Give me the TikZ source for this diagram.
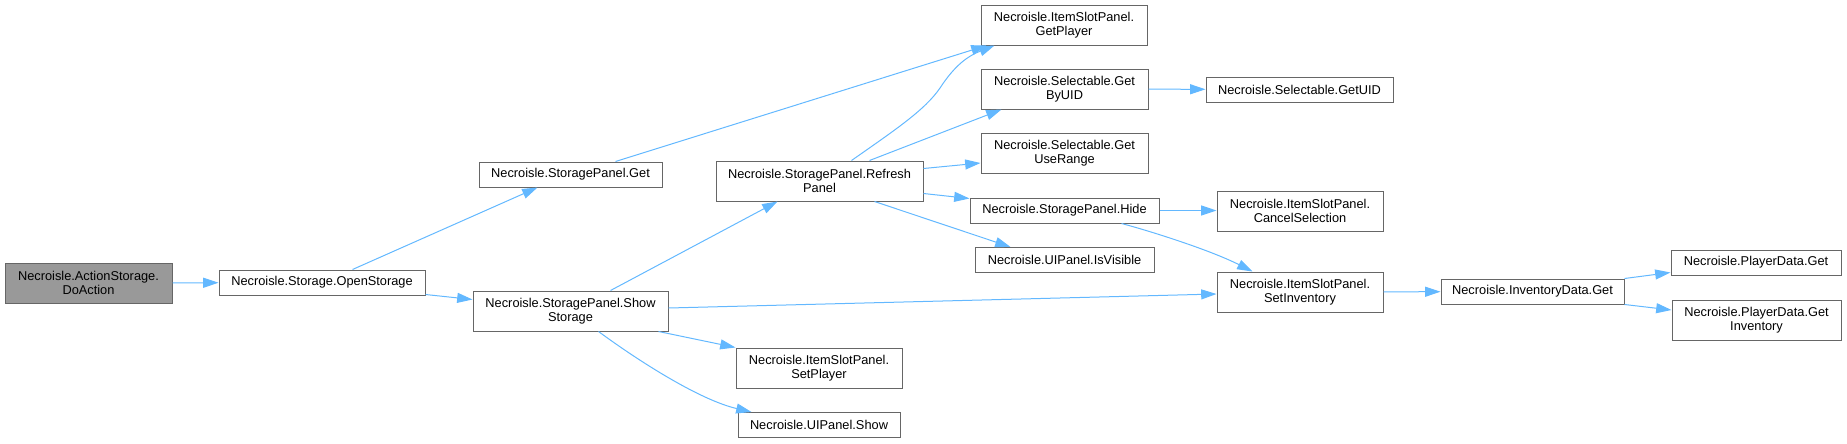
\documentclass[tikz,border=0pt]{standalone}
\usepackage{fontspec}
\setmainfont{Liberation Sans}
\usetikzlibrary{arrows.meta,calc}
\definecolor{edgeblue}{HTML}{63B8FF}
\definecolor{boxgray}{HTML}{666666}
\definecolor{rootgray}{HTML}{999999}
\tikzset{
    fn/.style={draw=boxgray, fill=white, line width=0.75pt, inner sep=0pt, align=center,
        font=\fontsize{9.6}{10.5}\selectfont, minimum width=#1*0.75pt},
    fnone/.style={fn=#1, minimum height=18.75pt},
    fntwo/.style={fn=#1, minimum height=30pt},
    call/.style={draw=edgeblue, line width=0.75pt, -{Triangle[length=11.5pt,width=7.5pt]}}
}
\begin{document}
\begin{tikzpicture}[x=0.75pt, y=-0.75pt]
    \useasboundingbox (0,0) rectangle (1847,443);
    % functions
    \node[fntwo=167, fill=rootgray] (doaction) at (88.5,283) {Necroisle.ActionStorage.\\DoAction};
    \node[fnone=206] (openstorage) at (322,282.5) {Necroisle.Storage.OpenStorage};
    \node[fnone=183] (spget) at (570.5,174.5) {Necroisle.StoragePanel.Get};
    \node[fntwo=195] (showstorage) at (570.5,311) {Necroisle.StoragePanel.Show\\Storage};
    \node[fntwo=207] (refresh) at (819.5,181) {Necroisle.StoragePanel.Refresh\\Panel};
    \node[fntwo=166] (setplayer) at (819,368) {Necroisle.ItemSlotPanel.\\SetPlayer};
    \node[fnone=162] (uishow) at (819,425) {Necroisle.UIPanel.Show};
    \node[fntwo=166] (getplayer) at (1064,25) {Necroisle.ItemSlotPanel.\\GetPlayer};
    \node[fntwo=167] (getbyuid) at (1064.5,89) {Necroisle.Selectable.Get\\ByUID};
    \node[fntwo=167] (getuserange) at (1064.5,153) {Necroisle.Selectable.Get\\UseRange};
    \node[fnone=189] (hide) at (1064.5,210.5) {Necroisle.StoragePanel.Hide};
    \node[fnone=179] (isvisible) at (1064.5,260) {Necroisle.UIPanel.IsVisible};
    \node[fnone=187] (getuid) at (1299.5,89.5) {Necroisle.Selectable.GetUID};
    \node[fntwo=166] (cancelsel) at (1300,211) {Necroisle.ItemSlotPanel.\\CancelSelection};
    \node[fntwo=166] (setinv) at (1300,292) {Necroisle.ItemSlotPanel.\\SetInventory};
    \node[fnone=183] (invget) at (1532.5,291.5) {Necroisle.InventoryData.Get};
    \node[fnone=170] (pdget) at (1756,262.5) {Necroisle.PlayerData.Get};
    \node[fntwo=169] (pdgetinv) at (1756.5,320) {Necroisle.PlayerData.Get\\Inventory};
    % calls
    \draw[call] (doaction) -- (openstorage);
    \draw[call] ($(openstorage.north west)+(134,0)$) -- ($(spget.south west)+(59,0)$);
    \draw[call] ($(openstorage.south east)+(0,-1)$) -- ($(showstorage.north west)+(0,9)$);
    \draw[call] ($(spget.north west)+(137,0)$) -- ($(getplayer.south west)+(6,0)$);
    \draw[call] ($(showstorage.north west)+(138,0)$) -- ($(refresh.south west)+(62,0)$);
    \draw[call] ($(showstorage.east)+(0,-3)$) -- ($(setinv.west)+(0,2)$);
    \draw[call] ($(showstorage.south east)+(-10,0)$) -- (setplayer.north west);
    \draw[call] ($(showstorage.south west)+(126,0)$) .. controls (640,362) and (700,400) .. ($(uishow.north west)+(14,0)$);
    \draw[call] ($(refresh.north west)+(136,0)$) .. controls (895,130) and (925,110) .. (940,88)
        .. controls (955,65) and (968,56) .. ($(getplayer.south west)+(14,0)$);
    \draw[call] ($(refresh.north west)+(154,0)$) -- ($(getbyuid.south west)+(21,0)$);
    \draw[call] ($(refresh.north east)+(0,8)$) -- ($(getuserange.west)+(0,10)$);
    \draw[call] ($(refresh.south east)+(0,-8)$) -- ($(hide.north west)+(0,1)$);
    \draw[call] ($(refresh.south west)+(159,0)$) -- ($(isvisible.north west)+(36,0)$);
    \draw[call] (getbyuid) -- (getuid);
    \draw[call] (hide) -- (hide -| cancelsel.west);
    \draw[call] ($(hide.south west)+(152,0)$) .. controls (1150,231) and (1210,250) .. ($(setinv.north west)+(36,0)$);
    \draw[call] (setinv) -- (invget);
    \draw[call] (invget.north east) -- ($(pdget.west)+(0,10)$);
    \draw[call] (invget.south east) -- ($(pdgetinv.west)+(0,-10)$);
\end{tikzpicture}
\end{document}
